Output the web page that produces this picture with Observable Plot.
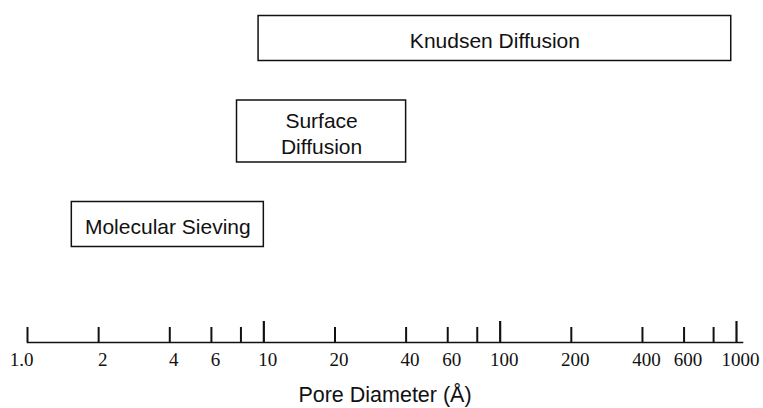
<!DOCTYPE html>
<html>
<head>
<meta charset="utf-8">
<script src="https://cdn.jsdelivr.net/npm/d3@7"></script>
<script src="https://cdn.jsdelivr.net/npm/@observablehq/plot@0.6"></script>
<style>
  html, body { margin: 0; padding: 0; background: #fff; }
  #chart svg { display: block; }
</style>
</head>
<body>
<div id="chart"></div>
<script>
// Transport mechanisms and the pore-diameter range (Å) each one covers
const mechanisms = ["Knudsen Diffusion", "Surface Diffusion", "Molecular Sieving"];
const labels = ["Knudsen Diffusion", "Surface\nDiffusion", "Molecular Sieving"];
const minDiameter = [9.5, 7.7, 1.54];
const maxDiameter = [950, 40, 10];

// Pore-diameter axis ticks (Å); empty labels are unlabeled ticks
const tickValues = [1, 2, 4, 6, 8, 10, 20, 40, 60, 80, 100, 200, 400, 600, 800, 1000];
const tickLabels = ["1.0", "2", "4", "6", "", "10", "20", "40", "60", "", "100", "200", "400", "600", "", "1000"];

const axisTitle = "Pore Diameter (Å)";

const boxes = mechanisms.map((name, i) => ({
  name,
  label: labels[i],
  lo: minDiameter[i],
  hi: maxDiameter[i],
  lines: labels[i].split("\n").length
}));
const ticks = tickValues.map((v, i) => ({value: v, label: tickLabels[i]}));

const width = 763, height = 408, marginTop = 0, marginBottom = 66;
const frameH = height - marginTop - marginBottom;
const isDecade = v => v >= 10 && Number.isInteger(Math.log10(v));

const sans = "'Liberation Sans', Arial, Helvetica, sans-serif";
const serif = "'Liberation Serif', 'Times New Roman', serif";
const ink = "#111";

const boxStyle = {x1: "lo", x2: "hi", y: "name", fill: "#fff", stroke: ink, strokeWidth: 1.5};

const chart = Plot.plot({
  width, height, marginTop, marginBottom, marginLeft: 27, marginRight: 21,
  x: {type: "log", domain: [1, 1000], range: [27, 736], axis: null},
  y: {type: "band", domain: mechanisms, range: [6.65, 255.55], paddingInner: 0.3365, paddingOuter: 0, align: 0.5, axis: null},
  style: {fontFamily: sans, color: ink, background: "#fff", overflow: "visible"},
  marks: [
    // mechanism boxes: two-line labels fill the band, one-line labels are inset
    Plot.barX(boxes.filter(d => d.lines > 1), {...boxStyle, insetTop: 0, insetBottom: 0}),
    Plot.barX(boxes.filter(d => d.lines === 1), {...boxStyle, insetTop: 8.5, insetBottom: 8.5}),
    Plot.text(boxes, {
      x: d => Math.sqrt(d.lo * d.hi), y: "name", text: "label",
      fontSize: 21, lineHeight: 1.2, fill: ink, dy: 1.5
    }),
    // axis line and upward ticks
    Plot.frame({anchor: "bottom", stroke: ink, strokeWidth: 1.6}),
    Plot.tickX(ticks.filter(d => !isDecade(d.value)), {x: "value", insetTop: frameH - 15, stroke: ink, strokeWidth: 2}),
    Plot.tickX(ticks.filter(d => isDecade(d.value)), {x: "value", insetTop: frameH - 21, stroke: ink, strokeWidth: 2.2}),
    // tick labels
    Plot.text(ticks.slice(0, 1), {
      x: "value", text: "label", frameAnchor: "bottom", lineAnchor: "top",
      textAnchor: "end", dx: 6, dy: 10, fontFamily: serif, fontSize: 19, fill: ink
    }),
    Plot.text(ticks.slice(1).filter(d => d.label), {
      x: "value", text: "label", frameAnchor: "bottom", lineAnchor: "top",
      textAnchor: "middle", dx: 4, dy: 10, fontFamily: serif, fontSize: 19, fill: ink
    }),
    // axis title
    Plot.text([axisTitle], {
      text: d => d, frameAnchor: "bottom", lineAnchor: "top", dy: 44,
      fontSize: 21.5, fill: ink
    })
  ]
});

document.getElementById("chart").appendChild(chart);
</script>
</body>
</html>
